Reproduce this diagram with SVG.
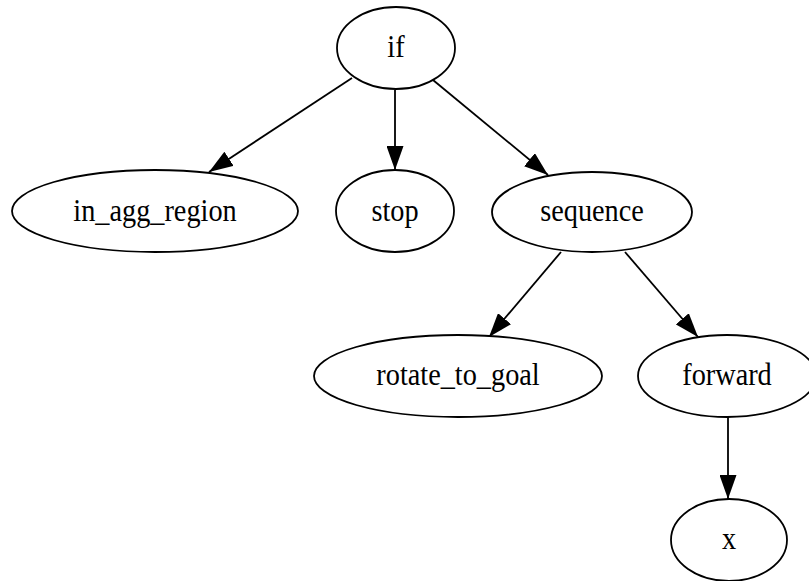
<svg xmlns="http://www.w3.org/2000/svg" width="809" height="581" viewBox="0 0 809 581">
  <style>
    .node ellipse { fill: #ffffff; stroke: #000000; stroke-width: 1.8; }
    .node text { font-family: "Liberation Serif", "Times New Roman", serif; font-size: 28.3px; fill: #000000; text-anchor: middle; }
    .edge { fill: none; stroke: #000000; stroke-width: 1.8; marker-end: url(#arrow); }
  </style>
  <defs>
    <marker id="arrow" markerUnits="userSpaceOnUse" markerWidth="24" markerHeight="17" refX="24" refY="8.5" orient="auto">
      <path d="M0,0 L24,8.5 L0,17 Z" fill="#000000"/>
    </marker>
  </defs>
  <rect width="809" height="581" fill="#ffffff"/>

  <!-- connectors -->
  <g id="edges">
    <line class="edge" x1="352" y1="78" x2="209" y2="172"/>
    <line class="edge" x1="395" y1="90" x2="395" y2="170"/>
    <line class="edge" x1="433" y1="80" x2="548" y2="175"/>
    <line class="edge" x1="561" y1="252" x2="489" y2="337"/>
    <line class="edge" x1="625" y1="252" x2="698" y2="337"/>
    <line class="edge" x1="728" y1="417" x2="728" y2="499"/>
  </g>

  <!-- nodes; labels are set slightly tall -->
  <g id="node-if" class="node">
    <ellipse cx="396" cy="48" rx="59" ry="41"/>
    <text transform="translate(396,57) scale(1,1.14)">if</text>
  </g>
  <g id="node-in_agg_region" class="node">
    <ellipse cx="155" cy="211" rx="143" ry="41"/>
    <text transform="translate(155,221) scale(1,1.14)">in_agg_region</text>
  </g>
  <g id="node-stop" class="node">
    <ellipse cx="395" cy="211" rx="59" ry="41"/>
    <text transform="translate(395,221) scale(1,1.14)">stop</text>
  </g>
  <g id="node-sequence" class="node">
    <ellipse cx="592" cy="212" rx="100" ry="40"/>
    <text transform="translate(592,221) scale(1,1.14)">sequence</text>
  </g>
  <g id="node-rotate_to_goal" class="node">
    <ellipse cx="458" cy="376" rx="144" ry="41"/>
    <text transform="translate(458,385) scale(1,1.14)">rotate_to_goal</text>
  </g>
  <g id="node-forward" class="node">
    <ellipse cx="727" cy="376" rx="89" ry="41"/>
    <text transform="translate(727,385) scale(1,1.14)">forward</text>
  </g>
  <g id="node-x" class="node">
    <ellipse cx="729" cy="540" rx="58" ry="41"/>
    <text transform="translate(729,549) scale(1,1.14)">x</text>
  </g>
</svg>
